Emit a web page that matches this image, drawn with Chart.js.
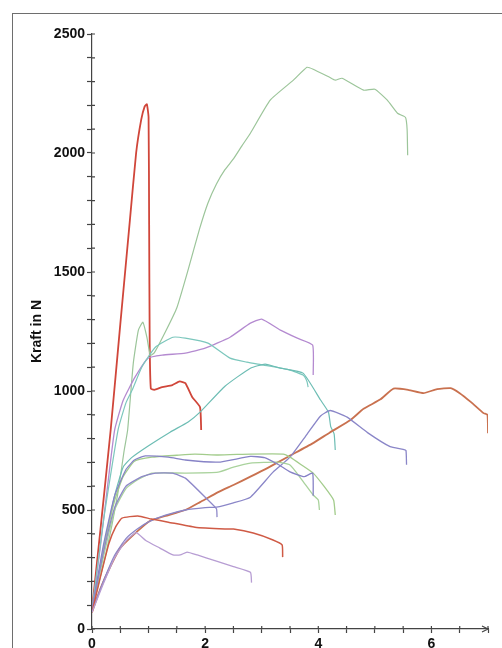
<!DOCTYPE html>
<html>
<head>
<meta charset="utf-8">
<script src="https://cdn.jsdelivr.net/npm/chart.js@4.4.1/dist/chart.umd.min.js"></script>
<style>
  html, body { margin: 0; padding: 0; background: #fff; overflow: hidden; }
  #wrap { position: relative; width: 502px; height: 648px; overflow: hidden; background: #fff; }
  #frame { position: absolute; left: 12px; top: 13px; width: 500px; height: 650px; border-left: 1.5px solid #6e6e6e; border-top: 1.5px solid #6e6e6e; }
  canvas { position: absolute; left: 0; top: 0; }
</style>
</head>
<body>
<div id="wrap">
  <div id="frame"></div>
  <canvas id="chart" width="502" height="668"></canvas>
</div>
<script>
// tick labels
const xLabels = [0, 2, 4, 6];
const yLabels = [0, 500, 1000, 1500, 2000, 2500];

// curves: [Weg, Kraft in N]
const rotSpitze = [[0,80],[0.15,420],[0.33,836],[0.5,1280],[0.67,1718],[0.78,2000],[0.87,2140],[0.93,2195],[0.97,2205],[1.0,2150],[1.01,1700],[1.02,1200],[1.04,1010],[1.1,1005],[1.24,1016],[1.42,1025],[1.55,1040],[1.65,1033],[1.77,975],[1.91,932],[1.93,836]];
const gruenHoch = [[0,80],[0.25,320],[0.45,560],[0.57,752],[0.63,836],[0.73,1117],[0.82,1256],[0.9,1289],[0.97,1226],[1.03,1150],[1.1,1160],[1.3,1250],[1.5,1350],[1.7,1510],[1.9,1680],[2.05,1790],[2.2,1870],[2.35,1930],[2.5,1975],[2.65,2030],[2.8,2083],[3.15,2222],[3.56,2306],[3.8,2360],[3.91,2352],[4.2,2318],[4.3,2306],[4.42,2314],[4.8,2264],[5.0,2268],[5.22,2222],[5.4,2167],[5.54,2150],[5.57,2100],[5.58,1991]];
const violettHoch = [[0,80],[0.15,350],[0.3,650],[0.4,836],[0.55,960],[0.76,1058],[0.99,1138],[1.24,1151],[1.65,1159],[2.0,1180],[2.44,1226],[2.8,1285],[3.0,1302],[3.33,1256],[3.63,1222],[3.9,1193],[3.91,1067]];
const tuerkisHoch = [[0,80],[0.2,450],[0.46,836],[0.6,950],[0.71,1004],[0.88,1100],[1.12,1184],[1.43,1226],[1.65,1222],[2.05,1201],[2.44,1138],[2.74,1121],[3.03,1109],[3.5,1088],[3.73,1067],[3.8,1040],[3.82,1016]];
const tuerkisTief = [[0,80],[0.2,330],[0.4,560],[0.55,680],[0.7,720],[1.0,770],[1.38,827],[1.7,870],[1.91,911],[2.35,1020],[2.8,1096],[3.06,1113],[3.33,1096],[3.73,1075],[4.04,962],[4.18,911],[4.22,850],[4.28,820],[4.3,752]];
const orange = [[0,70],[0.15,170],[0.3,250],[0.5,340],[0.8,410],[1.03,455],[1.3,475],[1.65,500],[1.91,533],[2.23,575],[2.5,605],[2.8,640],[3.1,676],[3.45,722],[3.9,780],[4.2,825],[4.57,878],[4.8,925],[5.1,965],[5.33,1010],[5.6,1004],[5.86,991],[6.1,1008],[6.34,1012],[6.5,991],[6.7,953],[6.92,907],[6.99,900],[7.0,823]];
const violettMitte = [[0,75],[0.2,200],[0.4,310],[0.6,380],[0.8,420],[1.0,450],[1.3,478],[1.65,500],[2.0,510],[2.2,512],[2.5,530],[2.8,554],[3.2,659],[3.5,722],[3.8,818],[4.04,895],[4.21,918],[4.51,890],[4.87,825],[5.27,766],[5.5,755],[5.55,750],[5.56,690]];
const rotTief = [[0,70],[0.15,220],[0.3,360],[0.42,430],[0.53,466],[0.81,475],[1.05,462],[1.35,449],[1.82,428],[2.35,420],[2.5,420],[2.85,403],[3.2,374],[3.36,353],[3.37,302]];
const lilaTief = [[0,70],[0.2,190],[0.4,300],[0.6,370],[0.78,405],[0.95,372],[1.2,340],[1.43,311],[1.56,311],[1.68,323],[1.86,311],[2.2,285],[2.5,262],[2.8,238],[2.82,195]];
const gruenPlateau = [[0,80],[0.2,330],[0.4,540],[0.55,640],[0.75,705],[1.06,722],[1.5,730],[1.82,735],[2.23,731],[2.8,735],[3.38,735],[3.5,722],[3.7,690],[3.91,655],[4.1,600],[4.27,542],[4.3,479]];
const gruenPlateauTief = [[0,80],[0.2,300],[0.4,500],[0.6,590],[0.8,626],[1.06,655],[1.65,655],[2.23,659],[2.5,680],[2.8,697],[3.27,701],[3.5,689],[3.7,630],[3.91,563],[4.0,542],[4.02,500]];
const violettPlateau = [[0,80],[0.2,350],[0.4,560],[0.6,670],[0.75,710],[0.94,727],[1.35,722],[1.65,710],[2.23,701],[2.8,725],[3.05,720],[3.3,690],[3.5,660],[3.75,640],[3.9,655],[3.91,560]];
const violettAbfall = [[0,80],[0.2,320],[0.4,510],[0.6,600],[0.88,640],[1.12,655],[1.42,655],[1.65,634],[2.05,542],[2.2,505],[2.21,470]];

function kurve(pts, color, width) {
    return {
        data: pts.map(([x, y]) => ({ x: x, y: y })),
        showLine: true,
        borderColor: color,
        borderWidth: width,
        pointRadius: 0,
        tension: 0.15,
        fill: false
    };
}

// small tick stubs inside the axes plus the arrow head on the x axis
const achsenDetails = {
    id: 'achsenDetails',
    beforeDatasetsDraw(chart) {
        const { ctx, scales: { x, y } } = chart;
        ctx.save();
        ctx.strokeStyle = '#444';
        ctx.lineWidth = 1.2;
        ctx.beginPath();
        x.ticks.forEach(t => {
            const px = x.getPixelForValue(t.value);
            ctx.moveTo(px, y.bottom);
            ctx.lineTo(px, y.bottom - 3);
        });
        y.ticks.forEach(t => {
            const py = y.getPixelForValue(t.value);
            ctx.moveTo(x.left, py);
            ctx.lineTo(x.left + 3, py);
        });
        const ax = x.getPixelForValue(7);
        ctx.moveTo(ax - 6, y.bottom - 3);
        ctx.lineTo(ax, y.bottom);
        ctx.lineTo(ax - 6, y.bottom + 3);
        ctx.stroke();
        ctx.restore();
    }
};

const ctx = document.getElementById('chart').getContext('2d');
new Chart(ctx, {
    type: 'scatter',
    data: {
        datasets: [
            kurve(lilaTief, '#b79dd3', 1.3),
            kurve(rotTief, '#cf5a45', 1.5),
            kurve(violettAbfall, '#8e88c9', 1.3),
            kurve(violettPlateau, '#8682c6', 1.3),
            kurve(gruenPlateauTief, '#a9d29c', 1.3),
            kurve(gruenPlateau, '#a3cc8c', 1.3),
            kurve(violettMitte, '#8a86c8', 1.3),
            kurve(orange, '#c9714f', 1.8),
            kurve(tuerkisTief, '#6dbdb4', 1.2),
            kurve(tuerkisHoch, '#7cc7bd', 1.2),
            kurve(violettHoch, '#b48ad0', 1.3),
            kurve(gruenHoch, '#9cc59a', 1.2),
            kurve(rotSpitze, '#d0463a', 1.8)
        ]
    },
    options: {
        responsive: false,
        animation: false,
        layout: { padding: { top: 34, right: 14, bottom: 9, left: 0 } },
        plugins: { legend: { display: false }, tooltip: { enabled: false } },
        scales: {
            x: {
                type: 'linear',
                min: 0,
                max: 7,
                afterFit: s => { s.height = 30; },
                ticks: {
                    stepSize: 0.5,
                    autoSkip: false,
                    padding: 3,
                    color: '#111',
                    font: { family: 'Liberation Sans', size: 14, weight: 'bold' },
                    callback: v => xLabels.includes(v) ? String(v) : ''
                },
                grid: { drawOnChartArea: false, tickLength: 4, color: '#444', tickWidth: 1.2 },
                border: { color: '#444', width: 1.2 }
            },
            y: {
                min: 0,
                max: 2500,
                afterFit: s => { s.width = 92; },
                ticks: {
                    stepSize: 100,
                    autoSkip: false,
                    padding: 2,
                    color: '#111',
                    font: { family: 'Liberation Sans', size: 14, weight: 'bold' },
                    callback: v => yLabels.includes(v) ? String(v) : ''
                },
                title: {
                    display: true,
                    text: 'Kraft in N',
                    color: '#111',
                    padding: { top: 29, bottom: 0 },
                    font: { family: 'Liberation Sans', size: 14, weight: 'bold' }
                },
                grid: { drawOnChartArea: false, tickLength: 5, color: '#444', tickWidth: 1.2 },
                border: { color: '#444', width: 1.2 }
            }
        }
    },
    plugins: [achsenDetails]
});
</script>
</body>
</html>
